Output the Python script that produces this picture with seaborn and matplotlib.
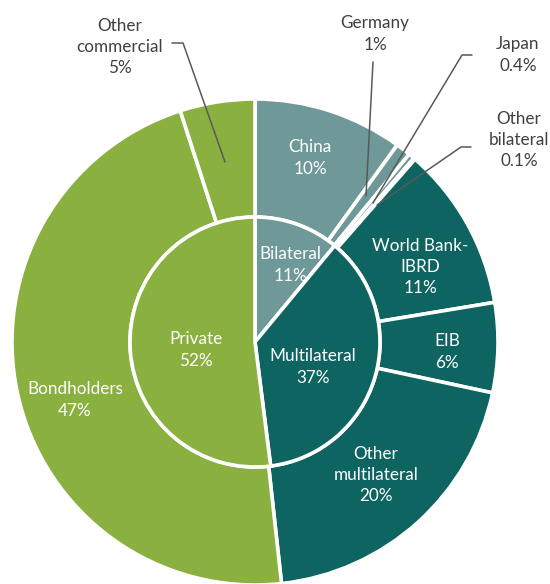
import seaborn as sns
import matplotlib.pyplot as plt

# datos
outer_labels = ["China", "Germany", "Japan", "Other\nbilateral", "World Bank-\nIBRD", "EIB",
                "Other\nmultilateral", "Bondholders", "Other\ncommercial"]
outer_values = [10, 1, 0.4, 0.1, 11, 6, 20, 47, 5]
outer_pct = ["10%", "1%", "0.4%", "0.1%", "11%", "6%", "20%", "47%", "5%"]

inner_labels = ["Bilateral", "Multilateral", "Private"]
inner_values = [11, 37, 52]
inner_pct = ["11%", "37%", "52%"]

verde = "#8AB040"
teal_claro = "#6E9998"
teal_oscuro = "#0E6460"
outer_colors = [teal_claro] * 4 + [teal_oscuro] * 3 + [verde] * 2
inner_colors = [teal_claro, teal_oscuro, verde]

sns.set_style("white")
plt.rcParams["font.family"] = ["Lato", "DejaVu Sans"]

W, H = 550, 584
fig = plt.figure(figsize=(W / 100, H / 100), dpi=100)
ax = fig.add_axes([0, 0, 1, 1])

def Y(py):
    return H - py

cx, cy = 255, Y(342)
R_out, R_in = 243, 125

ax.pie(outer_values, radius=R_out, center=(cx, cy), startangle=90, counterclock=False,
       colors=outer_colors, wedgeprops=dict(width=R_out - R_in, edgecolor="white", linewidth=2.6))
ax.pie(inner_values, radius=R_in, center=(cx, cy), startangle=90, counterclock=False,
       colors=inner_colors, wedgeprops=dict(edgecolor="white", linewidth=2.6))

ax.set_xlim(0, W)
ax.set_ylim(0, H)
ax.set_aspect("equal")
ax.axis("off")

fs = 12.3
blanco = dict(color="white", fontsize=fs, ha="center", va="center", linespacing=1.42)
gris = dict(color="#404040", fontsize=fs, ha="center", va="center", linespacing=1.42)

# etiquetas internas
ax.text(290, Y(265), inner_labels[0] + "\n" + inner_pct[0], **blanco)
ax.text(313, Y(367), inner_labels[1] + "\n" + inner_pct[1], **blanco)
ax.text(196, Y(350), inner_labels[2] + "\n" + inner_pct[2], **blanco)

# etiquetas externas
ax.text(310, Y(158), outer_labels[0] + "\n" + outer_pct[0], **blanco)
ax.text(420, Y(267), outer_labels[4] + "\n" + outer_pct[4], **blanco)
ax.text(447, Y(352), outer_labels[5] + "\n" + outer_pct[5], **blanco)
ax.text(376, Y(475), outer_labels[6] + "\n" + outer_pct[6], **blanco)
ax.text(75, Y(400), outer_labels[7] + "\n" + outer_pct[7], **blanco)

ax.text(120, Y(47), outer_labels[8] + "\n" + outer_pct[8], **gris)
ax.text(375, Y(34), outer_labels[1] + "\n" + outer_pct[1], **gris)
ax.text(518, Y(55), outer_labels[2] + "\n" + outer_pct[2], **gris)
ax.text(519, Y(140), outer_labels[3] + "\n" + outer_pct[3], **gris)

# líneas guía
lc = dict(color="#595959", linewidth=1.1)
ax.plot([172, 183, 225], [Y(43), Y(43), Y(162)], **lc)
ax.plot([373, 366], [Y(62), Y(196)], **lc)
ax.plot([472, 462, 373], [Y(55), Y(55), Y(203)], **lc)
ax.plot([471, 461, 377], [Y(147), Y(147), Y(205)], **lc)

fig.savefig("out.png", dpi=100)
